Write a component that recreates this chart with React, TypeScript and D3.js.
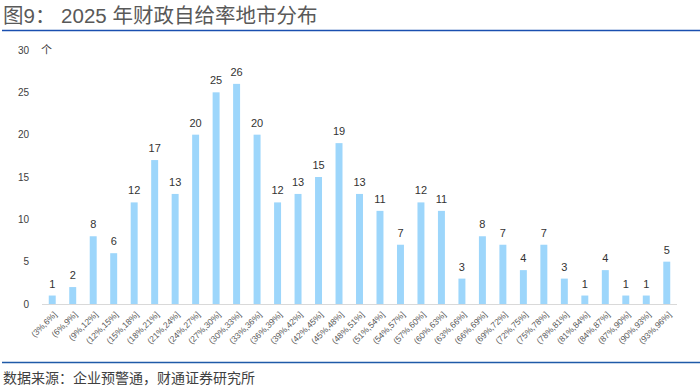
import React, { useEffect, useRef } from "react";
import * as d3 from "d3";

// categories: fiscal self-sufficiency ranges
export const categories: string[] = [
  "(3%,6%]", "(6%,9%]", "(9%,12%]", "(12%,15%]", "(15%,18%]", "(18%,21%]",
  "(21%,24%]", "(24%,27%]", "(27%,30%]", "(30%,33%]", "(33%,36%]", "(36%,39%]",
  "(39%,42%]", "(42%,45%]", "(45%,48%]", "(48%,51%]", "(51%,54%]", "(54%,57%]",
  "(57%,60%]", "(60%,63%]", "(63%,66%]", "(66%,69%]", "(69%,72%]", "(72%,75%]",
  "(75%,78%]", "(78%,81%]", "(81%,84%]", "(84%,87%]", "(87%,90%]", "(90%,93%]",
  "(93%,96%]",
];
export const counts: number[] = [
  1, 2, 8, 6, 12, 17, 13, 20, 25, 26, 20, 12, 13, 15, 19, 13, 11, 7, 12, 11,
  3, 8, 7, 4, 7, 3, 1, 4, 1, 1, 5,
];
export const yTicks: number[] = [0, 5, 10, 15, 20, 25, 30];

const width = 700;
const height = 388;
const font = "'Liberation Sans', 'Noto Sans CJK SC', sans-serif";

const App = () => {
  const ref = useRef<SVGSVGElement>(null);

  useEffect(() => {
    const svg = d3.select(ref.current);
    svg.selectAll("*").remove();

    // header
    svg
      .append("text")
      .attr("x", 3)
      .attr("y", 23)
      .attr("fill", "#595959")
      .style("font-size", "20.5px")
      .style("font-family", font)
      .text("图9： 2025 年财政自给率地市分布");
    svg
      .append("line")
      .attr("x1", 2)
      .attr("x2", width)
      .attr("y1", 30.5)
      .attr("y2", 30.5)
      .attr("stroke", "#1a4fb0")
      .attr("stroke-width", 1.6);

    const x = d3
      .scaleBand<string>()
      .domain(categories)
      .range([42, 677])
      .paddingInner(0.66)
      .paddingOuter(0.33);
    const y = d3.scaleLinear().domain([0, 30]).range([304, 50]);

    // y labels
    svg
      .append("g")
      .selectAll("text")
      .data(yTicks)
      .enter()
      .append("text")
      .attr("x", 29)
      .attr("y", (d) => y(d))
      .attr("dy", "0.35em")
      .attr("text-anchor", "end")
      .attr("fill", "#404040")
      .style("font-size", "10px")
      .style("font-family", font)
      .text((d) => d);
    svg
      .append("text")
      .attr("x", 41)
      .attr("y", y(30))
      .attr("dy", "0.35em")
      .attr("fill", "#404040")
      .style("font-size", "11px")
      .style("font-family", font)
      .text("个");

    // bars
    svg
      .selectAll("rect.bar")
      .data(counts)
      .enter()
      .append("rect")
      .attr("class", "bar")
      .attr("x", (_d, i) => x(categories[i])!)
      .attr("y", (d) => y(d))
      .attr("width", x.bandwidth())
      .attr("height", (d) => y(0) - y(d))
      .attr("fill", "#9dd6fb");

    svg
      .selectAll("text.val")
      .data(counts)
      .enter()
      .append("text")
      .attr("class", "val")
      .attr("x", (_d, i) => x(categories[i])! + x.bandwidth() / 2)
      .attr("y", (d) => y(d) - 8)
      .attr("text-anchor", "middle")
      .attr("fill", "#333")
      .style("font-size", "11px")
      .style("font-family", font)
      .text((d) => d);

    // x axis line
    svg
      .append("line")
      .attr("x1", 42)
      .attr("x2", 677)
      .attr("y1", y(0) + 0.5)
      .attr("y2", y(0) + 0.5)
      .attr("stroke", "#d9d9d9")
      .attr("stroke-width", 1);

    // x labels rotated
    svg
      .selectAll("text.cat")
      .data(categories)
      .enter()
      .append("text")
      .attr("class", "cat")
      .attr(
        "transform",
        (d) => `translate(${x(d)! + x.bandwidth() / 2 + 3}, ${y(0) + 9}) rotate(-45)`,
      )
      .attr("text-anchor", "end")
      .attr("dy", "0.35em")
      .attr("fill", "#595959")
      .style("font-size", "8.5px")
      .style("font-family", font)
      .text((d) => d);

    // footer
    svg
      .append("line")
      .attr("x1", 2)
      .attr("x2", width)
      .attr("y1", 362.5)
      .attr("y2", 362.5)
      .attr("stroke", "#1f5aa8")
      .attr("stroke-width", 1.5);
    svg
      .append("text")
      .attr("x", 3)
      .attr("y", 383)
      .attr("fill", "#404040")
      .style("font-size", "14px")
      .style("font-family", font)
      .text("数据来源：企业预警通，财通证券研究所");
  }, []);

  return (
    <svg
      ref={ref}
      width={width}
      height={height}
      style={{ position: "absolute", left: 0, top: 0, background: "#fff" }}
    />
  );
};

export default App;
